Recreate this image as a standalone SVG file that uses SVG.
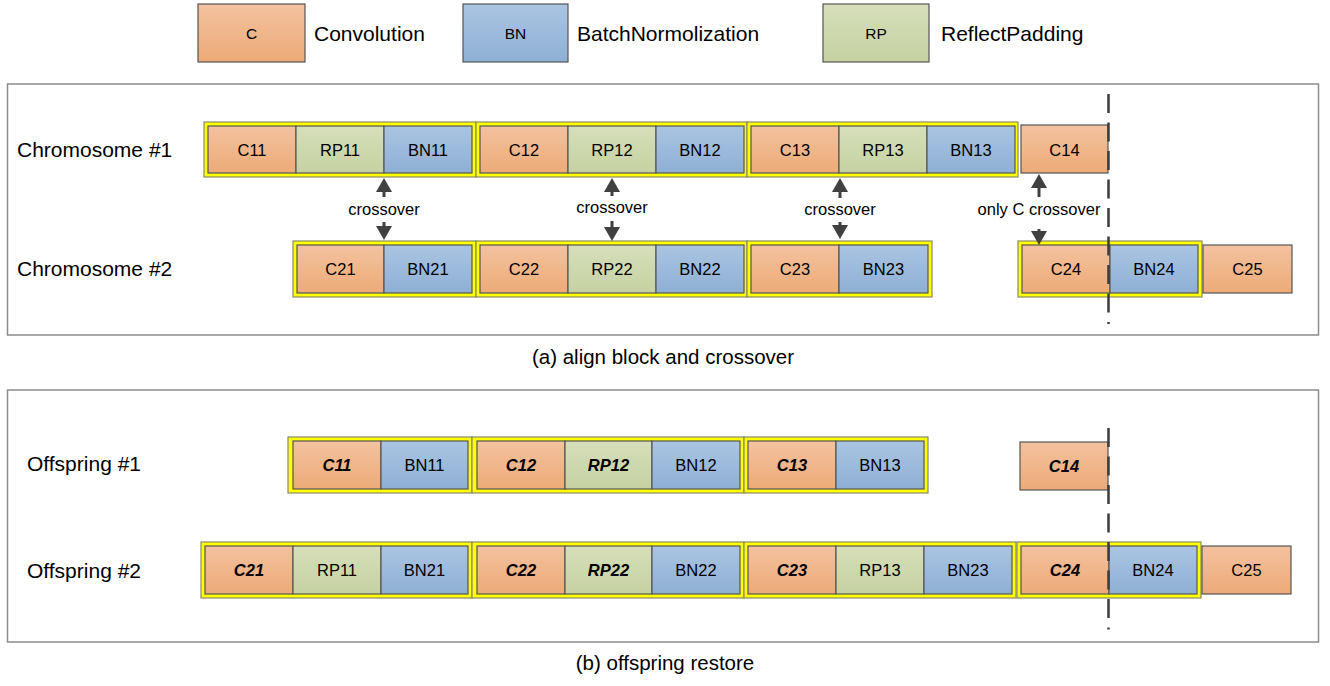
<svg xmlns="http://www.w3.org/2000/svg" width="1330" height="686" viewBox="0 0 1330 686">
  <defs>
    <linearGradient id="gC" x1="0" y1="0" x2="0" y2="1">
      <stop offset="0" stop-color="#f3c29f"/>
      <stop offset="1" stop-color="#edaa77"/>
    </linearGradient>
    <linearGradient id="gBN" x1="0" y1="0" x2="0" y2="1">
      <stop offset="0" stop-color="#aac5e2"/>
      <stop offset="1" stop-color="#8eafd4"/>
    </linearGradient>
    <linearGradient id="gRP" x1="0" y1="0" x2="0" y2="1">
      <stop offset="0" stop-color="#d6dfba"/>
      <stop offset="1" stop-color="#c6d1a2"/>
    </linearGradient>
    <marker id="head" viewBox="0 0 14 16" refX="3" refY="8" markerWidth="14" markerHeight="16" markerUnits="userSpaceOnUse" orient="auto">
      <path d="M0,0 L14,8 L0,16 z" fill="#404040"/>
    </marker>
    <style>
      text { font-family: "Liberation Sans", Arial, sans-serif; fill: #000; }
      .big { font-size: 21px; }
      .cell { font-size: 16.5px; text-anchor: middle; }
      .sw { font-weight: bold; font-style: italic; }
      .leg { font-size: 15.5px; text-anchor: middle; }
      .lab { font-size: 16.5px; text-anchor: middle; }
      .cap { font-size: 20.5px; text-anchor: middle; }
      .c { fill: url(#gC); stroke: #555; stroke-width: 1.2; }
      .bn { fill: url(#gBN); stroke: #555; stroke-width: 1.2; }
      .rp { fill: url(#gRP); stroke: #555; stroke-width: 1.2; }
      .grp { fill: #ffff00; stroke: #8a8a6a; stroke-width: 1.2; }
      .panel { fill: #fff; stroke: #8c8c8c; stroke-width: 1.5; }
      .arr { stroke: #404040; stroke-width: 3; fill: none; marker-end: url(#head); }
      .cut { stroke: #3c3c3c; stroke-width: 2.5; stroke-dasharray: 19 9.5; fill: none; }
    </style>
  </defs>

  <rect width="1330" height="686" fill="#fff"/>

  <!-- legend -->
  <g id="legend">
    <rect class="c" x="198" y="4" width="107" height="58"/>
    <text class="leg" x="251.5" y="38.5">C</text>
    <text class="big" x="314" y="40.5">Convolution</text>
    <rect class="bn" x="463" y="4" width="105" height="58"/>
    <text class="leg" x="515.5" y="38.5">BN</text>
    <text class="big" x="577" y="40.5">BatchNormolization</text>
    <rect class="rp" x="823" y="4" width="106" height="58"/>
    <text class="leg" x="876" y="38.5">RP</text>
    <text class="big" x="941" y="40.5">ReflectPadding</text>
  </g>

  <!-- frames -->
  <rect class="panel" x="7.5" y="84" width="1311" height="251"/>
  <rect class="panel" x="7.5" y="390" width="1311" height="252"/>

  <!-- (a) chromosome 1 -->
  <g id="chromosome1">
    <text class="big" x="17" y="157">Chromosome #1</text>
    <g id="a1-block1">
      <rect class="grp" x="204" y="122" width="272" height="55"/>
      <rect class="c" x="208" y="126" width="88" height="47"/><text class="cell" x="252" y="155.5">C11</text>
      <rect class="rp" x="296" y="126" width="88" height="47"/><text class="cell" x="340" y="155.5">RP11</text>
      <rect class="bn" x="384" y="126" width="88" height="47"/><text class="cell" x="428" y="155.5">BN11</text>
    </g>
    <g id="a1-block2">
      <rect class="grp" x="476" y="122" width="271" height="55"/>
      <rect class="c" x="480" y="126" width="88" height="47"/><text class="cell" x="524" y="155.5">C12</text>
      <rect class="rp" x="568" y="126" width="88" height="47"/><text class="cell" x="612" y="155.5">RP12</text>
      <rect class="bn" x="656" y="126" width="88" height="47"/><text class="cell" x="700" y="155.5">BN12</text>
    </g>
    <g id="a1-block3">
      <rect class="grp" x="747" y="122" width="271" height="55"/>
      <rect class="c" x="751" y="126" width="88" height="47"/><text class="cell" x="795" y="155.5">C13</text>
      <rect class="rp" x="839" y="126" width="88" height="47"/><text class="cell" x="883" y="155.5">RP13</text>
      <rect class="bn" x="927" y="126" width="88" height="47"/><text class="cell" x="971" y="155.5">BN13</text>
    </g>
    <g id="a1-c14">
      <rect class="c" x="1021" y="125" width="87" height="48"/><text class="cell" x="1064.5" y="155.5">C14</text>
    </g>
  </g>

  <!-- (a) chromosome 2 -->
  <g id="chromosome2">
    <text class="big" x="17" y="276">Chromosome #2</text>
    <g id="a2-block1">
      <rect class="grp" x="293" y="241" width="183" height="56"/>
      <rect class="c" x="297" y="245" width="87" height="48"/><text class="cell" x="340.5" y="275">C21</text>
      <rect class="bn" x="384" y="245" width="88" height="48"/><text class="cell" x="428" y="275">BN21</text>
    </g>
    <g id="a2-block2">
      <rect class="grp" x="476" y="241" width="271" height="56"/>
      <rect class="c" x="480" y="245" width="88" height="48"/><text class="cell" x="524" y="275">C22</text>
      <rect class="rp" x="568" y="245" width="88" height="48"/><text class="cell" x="612" y="275">RP22</text>
      <rect class="bn" x="656" y="245" width="88" height="48"/><text class="cell" x="700" y="275">BN22</text>
    </g>
    <g id="a2-block3">
      <rect class="grp" x="747" y="241" width="185" height="56"/>
      <rect class="c" x="751" y="245" width="88" height="48"/><text class="cell" x="795" y="275">C23</text>
      <rect class="bn" x="839" y="245" width="89" height="48"/><text class="cell" x="883.5" y="275">BN23</text>
    </g>
    <g id="a2-block4">
      <rect class="grp" x="1018" y="241" width="184" height="56"/>
      <rect class="c" x="1022" y="245" width="88" height="48"/><text class="cell" x="1066" y="275">C24</text>
      <rect class="bn" x="1110" y="245" width="88" height="48"/><text class="cell" x="1154" y="275">BN24</text>
    </g>
    <g id="a2-c25">
      <rect class="c" x="1203" y="245" width="89" height="48"/><text class="cell" x="1247.5" y="275">C25</text>
    </g>
  </g>

  <text class="cap" x="663" y="364">(a) align block and crossover</text>

  <!-- (b) offspring 1 -->
  <g id="offspring1">
    <text class="big" x="27" y="470.5">Offspring #1</text>
    <g id="b1-block1">
      <rect class="grp" x="288" y="437" width="184" height="56"/>
      <rect class="c" x="293" y="441" width="88" height="48"/><text class="cell sw" x="337" y="471">C11</text>
      <rect class="bn" x="381" y="441" width="87" height="48"/><text class="cell" x="424.5" y="471">BN11</text>
    </g>
    <g id="b1-block2">
      <rect class="grp" x="472" y="437" width="272" height="56"/>
      <rect class="c" x="477" y="441" width="88" height="48"/><text class="cell sw" x="521" y="471">C12</text>
      <rect class="rp" x="565" y="441" width="87" height="48"/><text class="cell sw" x="608.5" y="471">RP12</text>
      <rect class="bn" x="652" y="441" width="88" height="48"/><text class="cell" x="696" y="471">BN12</text>
    </g>
    <g id="b1-block3">
      <rect class="grp" x="744" y="437" width="184" height="56"/>
      <rect class="c" x="748" y="441" width="88" height="48"/><text class="cell sw" x="792" y="471">C13</text>
      <rect class="bn" x="836" y="441" width="88" height="48"/><text class="cell" x="880" y="471">BN13</text>
    </g>
    <g id="b1-c14">
      <rect class="c" x="1020" y="442" width="88" height="48"/><text class="cell sw" x="1064" y="472">C14</text>
    </g>
  </g>

  <!-- (b) offspring 2 -->
  <g id="offspring2">
    <text class="big" x="27" y="577.5">Offspring #2</text>
    <g id="b2-block1">
      <rect class="grp" x="201" y="542" width="271" height="56"/>
      <rect class="c" x="205" y="546" width="88" height="48"/><text class="cell sw" x="249" y="576">C21</text>
      <rect class="rp" x="293" y="546" width="88" height="48"/><text class="cell" x="337" y="576">RP11</text>
      <rect class="bn" x="381" y="546" width="87" height="48"/><text class="cell" x="424.5" y="576">BN21</text>
    </g>
    <g id="b2-block2">
      <rect class="grp" x="472" y="542" width="272" height="56"/>
      <rect class="c" x="477" y="546" width="88" height="48"/><text class="cell sw" x="521" y="576">C22</text>
      <rect class="rp" x="565" y="546" width="87" height="48"/><text class="cell sw" x="608.5" y="576">RP22</text>
      <rect class="bn" x="652" y="546" width="88" height="48"/><text class="cell" x="696" y="576">BN22</text>
    </g>
    <g id="b2-block3">
      <rect class="grp" x="744" y="542" width="272" height="56"/>
      <rect class="c" x="748" y="546" width="88" height="48"/><text class="cell sw" x="792" y="576">C23</text>
      <rect class="rp" x="836" y="546" width="88" height="48"/><text class="cell" x="880" y="576">RP13</text>
      <rect class="bn" x="924" y="546" width="88" height="48"/><text class="cell" x="968" y="576">BN23</text>
    </g>
    <g id="b2-block4">
      <rect class="grp" x="1017" y="542" width="184" height="56"/>
      <rect class="c" x="1021" y="546" width="88" height="48"/><text class="cell sw" x="1065" y="576">C24</text>
      <rect class="bn" x="1109" y="546" width="88" height="48"/><text class="cell" x="1153" y="576">BN24</text>
    </g>
    <g id="b2-c25">
      <rect class="c" x="1202" y="546" width="89" height="48"/><text class="cell" x="1246.5" y="576">C25</text>
    </g>
  </g>

  <text class="cap" x="665" y="670">(b) offspring restore</text>

  <!-- crossover arrows and the cut lines, drawn on top of the blocks -->
  <g id="connectors">
    <line class="arr" x1="384" y1="197" x2="384" y2="189"/>
    <line class="arr" x1="384" y1="222" x2="384" y2="229"/>
    <line class="arr" x1="612" y1="196" x2="612" y2="189"/>
    <line class="arr" x1="612" y1="221" x2="612" y2="230"/>
    <line class="arr" x1="840" y1="198" x2="840" y2="189"/>
    <line class="arr" x1="840" y1="222" x2="840" y2="228"/>
    <line class="arr" x1="1039" y1="197" x2="1039" y2="185"/>
    <line class="arr" x1="1039" y1="229" x2="1039" y2="234"/>
    <line class="cut" x1="1108.5" y1="94" x2="1108.5" y2="324"/>
    <line class="cut" x1="1108.5" y1="428" x2="1108.5" y2="629.5"/>
  </g>
  <g id="connector-labels">
    <text class="lab" x="384" y="215">crossover</text>
    <text class="lab" x="612" y="213">crossover</text>
    <text class="lab" x="840" y="215">crossover</text>
    <text class="lab" x="1039" y="215">only C crossover</text>
  </g>
</svg>
